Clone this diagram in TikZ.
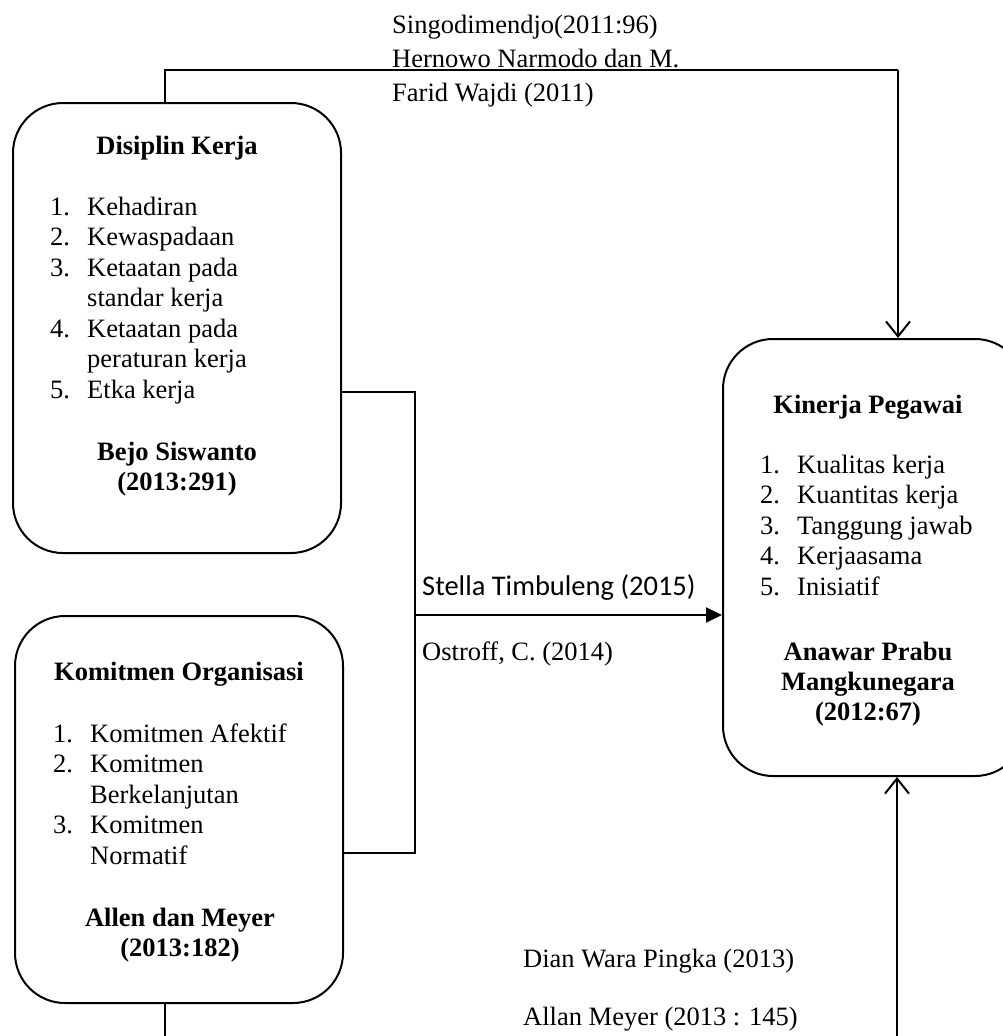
\documentclass[tikz,border=0pt]{standalone}
\usepackage{fontspec}
\setmainfont{Liberation Serif}
\newfontfamily\calib{Carlito}
\usetikzlibrary{arrows.meta,calc}
\begin{document}
\begin{tikzpicture}[x=1pt,y=-1pt,
  box/.style={draw, line width=2pt, rounded corners=50pt, inner sep=0pt},
  txt/.style={anchor=base west, inner sep=0pt, font=\fontsize{26.5}{30}\selectfont},
  ttl/.style={anchor=base, inner sep=0pt, font=\fontsize{26.5}{30}\selectfont\bfseries},
  sans/.style={anchor=base west, inner sep=0pt, font=\fontsize{28.5}{32}\selectfont\calib},
  lnk/.style={line width=2pt},
  thinlnk/.style={line width=1.1pt},
  openarr/.style={line width=2pt, -{Straight Barb[length=15pt,width=24pt,line width=2pt]}},
  fillarr/.style={line width=2pt, -{Triangle[length=16pt,width=15pt]}}
]
\useasboundingbox (0,0) rectangle (1003,1036);

% boxes
\node[box, minimum width=328pt, minimum height=450pt] (dk) at (177,328) {};
\node[box, minimum width=328pt, minimum height=387pt] (ko) at (179,809.5) {};
\node[box, minimum width=302pt, minimum height=437pt] (kp) at (874,557.5) {};

% box 1 text
\node[ttl] (dkt) at (177,154) {Disiplin Kerja};
\node[txt] (d1n) at (50,215) {1.};   \node[txt] (d1) at (87,215) {Kehadiran};
\node[txt] (d2n) at (50,245.5) {2.}; \node[txt] (d2) at (87,245.5) {Kewaspadaan};
\node[txt] (d3n) at (50,276) {3.};   \node[txt] (d3) at (87,276) {Ketaatan pada};
\node[txt] (d3b) at (87,306.5) {standar kerja};
\node[txt] (d4n) at (50,337) {4.};   \node[txt] (d4) at (87,337) {Ketaatan pada};
\node[txt] (d4b) at (87,367.5) {peraturan kerja};
\node[txt] (d5n) at (50,398) {5.};   \node[txt] (d5) at (87,398) {Etka kerja};
\node[ttl] (dks1) at (177,460) {Bejo Siswanto};
\node[ttl] (dks2) at (177,490) {(2013:291)};

% box 2 text
\node[ttl] (kot) at (179,680) {Komitmen Organisasi};
\node[txt] (k1n) at (53,742) {1.};   \node[txt] (k1) at (90,742) {Komitmen Afektif};
\node[txt] (k2n) at (53,772.5) {2.}; \node[txt] (k2) at (90,772.5) {Komitmen};
\node[txt] (k2b) at (90,803) {Berkelanjutan};
\node[txt] (k3n) at (53,833.5) {3.}; \node[txt] (k3) at (90,833.5) {Komitmen};
\node[txt] (k3b) at (90,864) {Normatif};
\node[ttl] (kos1) at (180,926) {Allen dan Meyer};
\node[ttl] (kos2) at (180,956) {(2013:182)};

% box 3 text
\node[ttl] (kpt) at (868,413) {Kinerja Pegawai};
\node[txt] (p1n) at (760,473) {1.};   \node[txt] (p1) at (797,473) {Kualitas kerja};
\node[txt] (p2n) at (760,503.5) {2.}; \node[txt] (p2) at (797,503.5) {Kuantitas kerja};
\node[txt] (p3n) at (760,534) {3.};   \node[txt] (p3) at (797,534) {Tanggung jawab};
\node[txt] (p4n) at (760,564.5) {4.}; \node[txt] (p4) at (797,564.5) {Kerjaasama};
\node[txt] (p5n) at (760,595) {5.};   \node[txt] (p5) at (797,595) {Inisiatif};
\node[ttl] (kps1) at (868,660) {Anawar Prabu};
\node[ttl] (kps2) at (868,690) {Mangkunegara};
\node[ttl] (kps3) at (868,720) {(2012:67)};

% labels
\node[txt] (l1) at (392,33) {Singodimendjo(2011:96)};
\node[txt] (l2) at (392,67) {Hernowo Narmodo dan M.};
\node[txt] (l3) at (392,101) {Farid Wajdi (2011)};
\node[sans] (l4) at (422,595) {Stella Timbuleng (2015)};
\node[txt] (l5) at (422,660) {Ostroff, C. (2014)};
\node[txt] (l6) at (523,967) {Dian Wara Pingka (2013)};
\node[txt] (l7) at (523,1025) {Allan Meyer (2013 : 145)};

% connectors
\coordinate (tc) at (898,70);
\coordinate (jn) at (415,615);
\coordinate (bl) at (165,1045);
\coordinate (br) at (897,1045);

\draw[lnk] ($(dk.north)+(-12,0)$) |- (tc);
\draw[openarr] (tc) -- ($(kp.north)+(24,0)$);
\draw[thinlnk] ($(dk.east)+(0,64)$) -| (jn) |- ($(ko.east)+(0,43.5)$);
\draw[fillarr] (jn) -- (kp.west |- jn);
\draw[thinlnk] ($(ko.south)+(-14,0)$) -- (bl);
\draw[openarr] (br) -- ($(kp.south)+(23,0)$);
\end{tikzpicture}
\end{document}
